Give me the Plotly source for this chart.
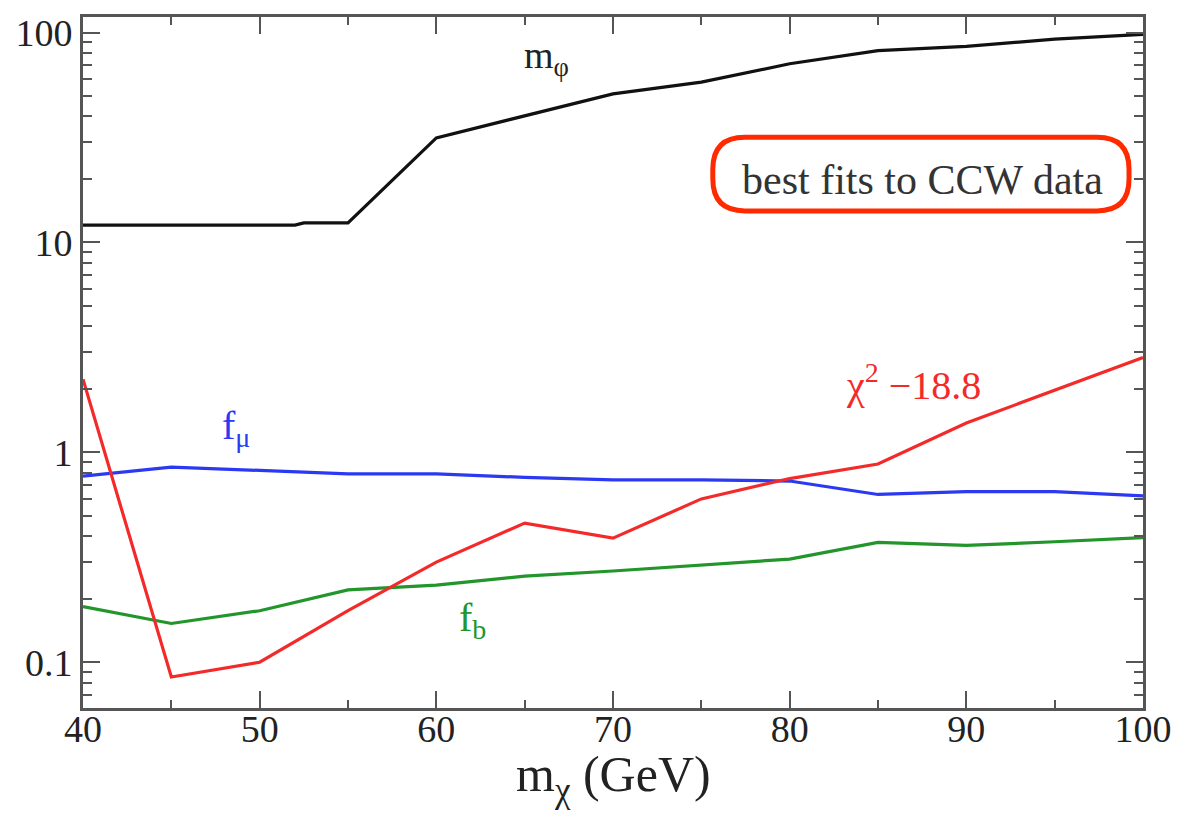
import plotly.graph_objects as go

# ---------------- data ----------------
m_chi = [40, 45, 50, 55, 60, 65, 70, 75, 80, 85, 90, 95, 100]

m_phi_x = [40, 52, 52.5, 55, 60, 65, 70, 75, 80, 85, 90, 95, 100]
m_phi = [12.1, 12.1, 12.4, 12.4, 31.5, 40, 51, 58, 71, 82, 86, 93, 98]

f_mu = [0.77, 0.85, 0.82, 0.79, 0.79, 0.76, 0.74, 0.74, 0.73, 0.63, 0.65, 0.65, 0.62]
f_b = [0.184, 0.153, 0.176, 0.221, 0.233, 0.257, 0.272, 0.29, 0.31, 0.372, 0.36, 0.375, 0.392]
chi2 = [2.23, 0.085, 0.100, 0.176, 0.30, 0.46, 0.39, 0.60, 0.75, 0.88, 1.38, 1.98, 2.83]

y_tickvals = [0.1, 1, 10, 100]
y_ticktext = ["0.1", "1", "10", "100"]
x_tickvals = [40, 50, 60, 70, 80, 90, 100]

# ---------------- figure ----------------
W, H = 1184, 821
ml, mr, mt, mb = 83, 39, 13, 113
pw, ph = W - ml - mr, H - mt - mb

SERIF = "Liberation Serif"
BLACK = "#111111"
BLUE = "#2b3af2"
RED = "#f42a2a"
GREEN = "#22952b"

fig = go.Figure()
lw = 3.2
fig.add_trace(go.Scatter(x=m_phi_x, y=m_phi, mode="lines", line=dict(color=BLACK, width=lw), name="m_phi"))
fig.add_trace(go.Scatter(x=m_chi, y=f_mu, mode="lines", line=dict(color=BLUE, width=lw), name="f_mu"))
fig.add_trace(go.Scatter(x=m_chi, y=f_b, mode="lines", line=dict(color=GREEN, width=lw), name="f_b"))
fig.add_trace(go.Scatter(x=m_chi, y=chi2, mode="lines", line=dict(color=RED, width=lw), name="chi2"))


def pp(x, y):
    return (x - ml) / pw, (H - mb - y) / ph


# rounded (pill-like) red box
x0, x1, y0, y1, r = 714, 1131, 134, 208, 32
pts = [
    ("M", [(x0 + r, y0)]), ("L", [(x1 - r, y0)]), ("Q", [(x1, y0), (x1, y0 + r)]),
    ("L", [(x1, y1 - r)]), ("Q", [(x1, y1), (x1 - r, y1)]), ("L", [(x0 + r, y1)]),
    ("Q", [(x0, y1), (x0, y1 - r)]), ("L", [(x0, y0 + r)]), ("Q", [(x0, y0), (x0 + r, y0)]),
]
path = ""
for cmd, cs in pts:
    path += cmd + " " + " ".join("%.5f,%.5f" % pp(cx, cy) for cx, cy in cs) + " "
path += "Z"
fig.add_shape(type="path", path=path, xref="paper", yref="paper",
              line=dict(color="#ff2a00", width=5))


def label(txt, px, py, col, size):
    fx, fy = pp(px, py)
    fig.add_annotation(x=fx, y=fy, xref="paper", yref="paper", text=txt, showarrow=False,
                       xanchor="center", yanchor="middle",
                       font=dict(family=SERIF, size=size, color=col))


label("best fits to CCW data", 924, 177, "#333333", 42)
label("m<sub>φ</sub>", 547, 54, "#222222", 38)
label("f<sub>μ</sub>", 236, 426, BLUE, 40)
label("f<sub>b</sub>", 473, 619, GREEN, 40)
label("χ<sup>2</sup> −18.8", 915, 381, RED, 40)
label("m<sub>χ</sub> (GeV)", 614, 778, "#222222", 50)

axis_common = dict(
    showline=True, linecolor="#555555", linewidth=3, mirror="allticks",
    ticks="inside", tickcolor="#555555", tickwidth=2, ticklen=17,
    showgrid=False, zeroline=False,
    tickfont=dict(family=SERIF, size=38, color="#222222"),
)

fig.update_xaxes(
    range=[40, 100], tickmode="array", tickvals=x_tickvals,
    minor=dict(ticks="inside", ticklen=8, tickwidth=2, tickcolor="#555555", dtick=5, tick0=40, showgrid=False),
    ticklabelstandoff=-15,
    **axis_common,
)
fig.update_yaxes(
    type="log", range=[-1.218, 2.074], tickmode="array", tickvals=y_tickvals, ticktext=y_ticktext,
    minor=dict(ticks="inside", ticklen=9, tickwidth=2, tickcolor="#555555", dtick="D1", showgrid=False),
    **axis_common,
)
fig.update_layout(
    width=W, height=H, margin=dict(l=ml, r=mr, t=mt, b=mb),
    paper_bgcolor="white", plot_bgcolor="white", showlegend=False,
)
fig.write_html("out.html")
